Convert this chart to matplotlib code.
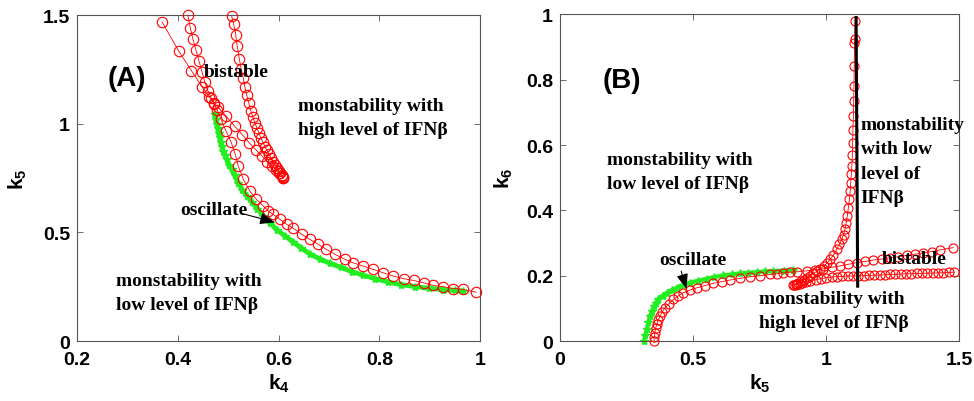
import matplotlib
matplotlib.use("Agg")
import matplotlib.pyplot as plt

plt.rcParams['font.family'] = ['Liberation Sans', 'DejaVu Sans']
plt.rcParams['font.weight'] = 'bold'
plt.rcParams['mathtext.fontset'] = 'custom'
plt.rcParams['mathtext.bf'] = 'Liberation Sans:bold'
plt.rcParams['mathtext.rm'] = 'Liberation Sans:bold'
plt.rcParams['mathtext.it'] = 'Liberation Sans:bold'

# ---------------- Panel A data (k4 vs k5) ----------------
a1_k4 = [0.369, 0.402, 0.427, 0.448, 0.462, 0.472, 0.480, 0.496, 0.513, 0.528, 0.542, 0.556,
         0.568, 0.578, 0.587, 0.595, 0.601, 0.606, 0.609]
a1_k5 = [1.468, 1.334, 1.245, 1.170, 1.125, 1.095, 1.075, 1.035, 0.989, 0.950, 0.912, 0.878,
         0.850, 0.825, 0.805, 0.787, 0.772, 0.760, 0.752]

a2_k4 = [0.507, 0.511, 0.515, 0.518, 0.522, 0.526, 0.530, 0.533, 0.537, 0.541, 0.545, 0.549,
         0.553, 0.557, 0.561, 0.565, 0.569, 0.573, 0.577, 0.581, 0.585, 0.589, 0.593, 0.597,
         0.600, 0.603, 0.606, 0.608, 0.609]
a2_k5 = [1.495, 1.457, 1.41, 1.357, 1.30, 1.25, 1.21, 1.17, 1.13, 1.095, 1.06, 1.03,
         1.005, 0.98, 0.958, 0.935, 0.915, 0.895, 0.877, 0.86, 0.842, 0.826, 0.81, 0.795,
         0.783, 0.772, 0.763, 0.757, 0.752]

a3_k4 = [0.42, 0.425, 0.43, 0.436, 0.442, 0.448, 0.454, 0.46, 0.466, 0.472, 0.478, 0.486,
         0.496, 0.506, 0.514, 0.520, 0.530, 0.543, 0.556, 0.57, 0.58, 0.589, 0.603, 0.616,
         0.629, 0.646, 0.662, 0.679, 0.695, 0.712, 0.732, 0.748, 0.768, 0.788, 0.808, 0.828,
         0.848, 0.868, 0.888, 0.907, 0.927, 0.947, 0.966, 0.992]
a3_k5 = [1.50, 1.44, 1.39, 1.34, 1.29, 1.24, 1.19, 1.15, 1.12, 1.09, 1.065, 1.02,
         0.965, 0.915, 0.86, 0.805, 0.745, 0.69, 0.652, 0.621, 0.598, 0.583, 0.56, 0.537,
         0.52, 0.491, 0.468, 0.445, 0.422, 0.399, 0.376, 0.36, 0.345, 0.33, 0.314, 0.299,
         0.287, 0.279, 0.268, 0.256, 0.25, 0.242, 0.238, 0.225]

ga_k4 = [0.473, 0.475, 0.477, 0.479, 0.481, 0.483, 0.485, 0.487, 0.490, 0.493, 0.497, 0.502,
         0.507, 0.513, 0.520, 0.528, 0.537, 0.547, 0.558, 0.570, 0.583, 0.597, 0.612, 0.628,
         0.645, 0.663, 0.682, 0.702, 0.723, 0.745, 0.768, 0.792, 0.817, 0.843, 0.870, 0.898,
         0.927, 0.95, 0.965]
ga_k5 = [1.043, 1.02, 1.0, 0.98, 0.958, 0.937, 0.917, 0.897, 0.875, 0.858, 0.836, 0.81,
         0.79, 0.762, 0.728, 0.697, 0.668, 0.638, 0.609, 0.576, 0.544, 0.512, 0.485, 0.458,
         0.428, 0.40, 0.378, 0.358, 0.34, 0.32, 0.303, 0.287, 0.272, 0.26, 0.251, 0.243,
         0.237, 0.233, 0.23]

a_xticks = [0.2, 0.4, 0.6, 0.8, 1.0]
a_xticklabels = ['0.2', '0.4', '0.6', '0.8', '1']
a_yticks = [0, 0.5, 1.0, 1.5]
a_yticklabels = ['0', '0.5', '1', '1.5']

# ---------------- Panel B data (k5 vs k6) ----------------
gb_k5 = [0.316, 0.320, 0.326, 0.332, 0.338, 0.345, 0.353, 0.361, 0.369, 0.385, 0.401, 0.42,
         0.438, 0.46, 0.488, 0.52, 0.551, 0.58, 0.613, 0.645, 0.676, 0.707, 0.739, 0.77,
         0.801, 0.84, 0.876]
gb_k6 = [0, 0.018, 0.036, 0.057, 0.077, 0.092, 0.107, 0.118, 0.128, 0.139, 0.148, 0.156,
         0.163, 0.171, 0.179, 0.185, 0.191, 0.196, 0.201, 0.204, 0.207, 0.209, 0.211, 0.213,
         0.214, 0.216, 0.217]

b1_k5 = [0.353, 0.354, 0.356, 0.359, 0.363, 0.369, 0.376, 0.384, 0.394, 0.41, 0.426, 0.444,
         0.463, 0.488, 0.513, 0.545, 0.576, 0.608, 0.639, 0.676, 0.714, 0.751, 0.789, 0.814,
         0.839, 0.864, 0.889, 0.927, 0.958, 0.989, 1.02, 1.052, 1.083, 1.114, 1.146, 1.177,
         1.208, 1.24, 1.271, 1.302, 1.334, 1.365, 1.396, 1.427, 1.477]
b1_k6 = [0, 0.013, 0.026, 0.039, 0.051, 0.064, 0.077, 0.09, 0.102, 0.115, 0.128, 0.138,
         0.148, 0.156, 0.163, 0.170, 0.177, 0.182, 0.187, 0.192, 0.197, 0.2, 0.204, 0.206,
         0.209, 0.211, 0.212, 0.215, 0.218, 0.221, 0.226, 0.23, 0.235, 0.24, 0.244, 0.248,
         0.251, 0.255, 0.258, 0.262, 0.266, 0.27, 0.274, 0.279, 0.286]

b2_k5 = [0.88, 0.885, 0.89, 0.9, 0.91, 0.925, 0.94, 0.96, 0.98, 1.0, 1.02, 1.04, 1.06, 1.08,
         1.1, 1.12, 1.14, 1.16, 1.18, 1.2, 1.22, 1.24, 1.26, 1.28, 1.3, 1.32, 1.34, 1.36, 1.38,
         1.4, 1.42, 1.44, 1.46, 1.48]
b2_k6 = [0.172, 0.173, 0.174, 0.176, 0.178, 0.181, 0.184, 0.188, 0.191, 0.194, 0.196, 0.197,
         0.198, 0.199, 0.199, 0.2, 0.2, 0.201, 0.202, 0.202, 0.203, 0.204, 0.204, 0.205, 0.206,
         0.206, 0.207, 0.207, 0.208, 0.208, 0.209, 0.209, 0.21, 0.211]

b3_k5 = [0.876, 0.885, 0.895, 0.905, 0.915, 0.927, 0.94, 0.952, 0.965, 0.977, 0.99, 1.002,
         1.014, 1.027, 1.039, 1.049, 1.058, 1.065, 1.07, 1.075, 1.079, 1.083, 1.087, 1.09,
         1.092, 1.094, 1.096, 1.098, 1.099, 1.1, 1.102, 1.103, 1.104, 1.105, 1.106, 1.107, 1.108]
b3_k6 = [0.172, 0.175, 0.179, 0.183, 0.188, 0.194, 0.2, 0.207, 0.214, 0.221, 0.229, 0.238,
         0.25, 0.263, 0.281, 0.296, 0.311, 0.326, 0.342, 0.362, 0.383, 0.408, 0.434, 0.46,
         0.485, 0.51, 0.536, 0.57, 0.607, 0.645, 0.689, 0.735, 0.781, 0.842, 0.913, 0.925, 0.98]

bline_k5 = [1.112, 1.118]
bline_k6 = [0.99, 0.168]

b_xticks = [0, 0.5, 1.0, 1.5]
b_xticklabels = ['0', '0.5', '1', '1.5']
b_yticks = [0, 0.2, 0.4, 0.6, 0.8, 1.0]
b_yticklabels = ['0', '0.2', '0.4', '0.6', '0.8', '1']

RED = '#ff0000'
GREEN = '#22ee22'
SERIF = ['Liberation Serif', 'DejaVu Serif']
LS = 1.55

fig = plt.figure(figsize=(9.74, 4.02), dpi=100)
axA = fig.add_axes([0.079, 0.149, 0.414, 0.811])
axB = fig.add_axes([0.575, 0.149, 0.410, 0.813])


def red_curve(ax, x, y, ms):
    ax.plot(x, y, '-', color=RED, lw=0.6, marker='o', ms=ms, mfc='none',
            mec=RED, mew=0.8, zorder=3, clip_on=False)


def style(ax, xt, xtl, yt, ytl, xl, yl, ylpad):
    ax.set_xticks(xt)
    ax.set_xticklabels(xtl)
    ax.set_yticks(yt)
    ax.set_yticklabels(ytl)
    ax.tick_params(direction='in', top=True, right=True, length=4, width=0.6,
                   color='#555555', labelsize=14)
    ax.tick_params(axis='x', pad=7)
    ax.tick_params(axis='y', pad=5)
    for lab in ax.get_xticklabels() + ax.get_yticklabels():
        lab.set_fontweight('bold')
    for s in ax.spines.values():
        s.set_color('#555555')
        s.set_linewidth(0.8)
    ax.set_xlabel(xl, fontsize=15, labelpad=3)
    ax.set_ylabel(yl, fontsize=15, labelpad=ylpad)


# Panel A
axA.plot(ga_k4, ga_k5, '-', color=GREEN, lw=3.5, zorder=2)
axA.plot(ga_k4, ga_k5, linestyle='none', marker='*', color=GREEN, ms=6, zorder=2)
red_curve(axA, a1_k4, a1_k5, 7.5)
red_curve(axA, a2_k4, a2_k5, 7.5)
red_curve(axA, a3_k4, a3_k5, 7.5)
axA.set_xlim(0.2, 1.0)
axA.set_ylim(0, 1.5)
style(axA, a_xticks, a_xticklabels, a_yticks, a_yticklabels,
      r'$\mathbf{k_4}$', r'$\mathbf{k_5}$', 10)

axA.text(0.26, 1.21, '(A)', fontsize=20, fontweight='bold', ha='left', va='center')
axA.text(0.452, 1.242, 'bistable', family=SERIF, fontsize=14, fontweight='bold',
         ha='left', va='center', zorder=4)
axA.text(0.639, 1.03, 'monstability with\nhigh level of IFNβ', family=SERIF, fontsize=14,
         fontweight='bold', ha='left', va='center', linespacing=LS)
axA.text(0.404, 0.607, 'oscillate', family=SERIF, fontsize=14, fontweight='bold',
         ha='left', va='center')
axA.text(0.277, 0.225, 'monstability with\nlow level of IFNβ', family=SERIF, fontsize=14,
         fontweight='bold', ha='left', va='center', linespacing=LS)
axA.annotate('', xy=(0.598, 0.543), xytext=(0.523, 0.59),
             arrowprops=dict(arrowstyle='-|>,head_length=0.9,head_width=0.35',
                             color='black', lw=0.8), zorder=5)

# Panel B
axB.plot(gb_k5, gb_k6, '-', color=GREEN, lw=3.0, zorder=2)
axB.plot(gb_k5, gb_k6, linestyle='none', marker='*', color=GREEN, ms=6, zorder=2,
         clip_on=False)
red_curve(axB, b1_k5, b1_k6, 6.5)
red_curve(axB, b2_k5, b2_k6, 6.5)
red_curve(axB, b3_k5, b3_k6, 6.5)
axB.plot(bline_k5, bline_k6, '-', color='black', lw=2.2, zorder=4)
axB.set_xlim(0, 1.5)
axB.set_ylim(0, 1.0)
style(axB, b_xticks, b_xticklabels, b_yticks, b_yticklabels,
      r'$\mathbf{k_5}$', r'$\mathbf{k_6}$', 8)

axB.text(0.16, 0.80, '(B)', fontsize=20, fontweight='bold', ha='left', va='center')
axB.text(0.178, 0.52, 'monstability with\nlow level of IFNβ', family=SERIF, fontsize=14,
         fontweight='bold', ha='left', va='center', linespacing=LS)
axB.text(1.13, 0.551, 'monstability\nwith low\nlevel of\nIFNβ', family=SERIF, fontsize=14,
         fontweight='bold', ha='left', va='center', linespacing=LS)
axB.text(1.208, 0.252, 'bistable', family=SERIF, fontsize=14, fontweight='bold',
         ha='left', va='center', zorder=5)
axB.text(0.373, 0.25, 'oscillate', family=SERIF, fontsize=14, fontweight='bold',
         ha='left', va='center')
axB.text(0.749, 0.093, 'monstability with\nhigh level of IFNβ', family=SERIF, fontsize=14,
         fontweight='bold', ha='left', va='center', linespacing=LS)
axB.annotate('', xy=(0.478, 0.152), xytext=(0.452, 0.222),
             arrowprops=dict(arrowstyle='-|>,head_length=0.9,head_width=0.35',
                             color='black', lw=0.8), zorder=5)

fig.savefig('out.png', dpi=100)
